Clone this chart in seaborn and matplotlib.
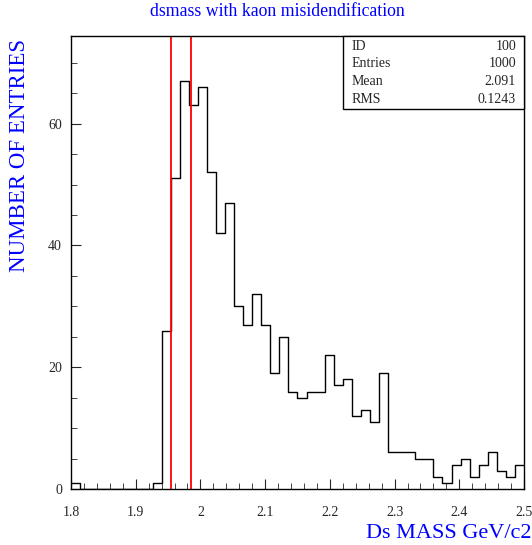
import numpy as np
import pandas as pd
import matplotlib
matplotlib.use("Agg")
import matplotlib.pyplot as plt
from matplotlib.patches import Rectangle
from matplotlib.ticker import MultipleLocator
import seaborn as sns

# histogram contents, 50 bins from 1.8 to 2.5
counts = [1, 0, 0, 0, 0, 0, 0, 0, 0, 1,
          26, 51, 67, 63, 66, 52, 42, 47, 30, 27,
          32, 27, 19, 25, 16, 15, 16, 16, 22, 17,
          18, 12, 13, 11, 19, 6, 6, 6, 5, 5,
          2, 1, 4, 5, 2, 4, 6, 3, 2, 4]
xmin, xmax = 1.8, 2.5
cut_lo, cut_hi = 1.9545, 1.985
stats_names = ["ID", "Entries", "Mean", "RMS"]
stats_values = ["100", "1000", "2.091", "0.1243"]

edges = np.linspace(xmin, xmax, len(counts) + 1)
centers = (edges[:-1] + edges[1:]) / 2
df = pd.DataFrame({"mass": centers, "n": counts})

sns.set_style("ticks")
plt.rcParams["font.family"] = ["Liberation Serif", "DejaVu Serif"]

W, H = 532, 545
fig = plt.figure(figsize=(W/100, H/100), dpi=100)
ax = fig.add_axes([71/W, 1-489/H, 453/W, 453/H])

sns.histplot(data=df, x="mass", weights="n", bins=len(counts),
             binrange=(xmin, xmax), element="step",
             fill=False, color="black", linewidth=1.0, ax=ax)

ax.axvline(cut_lo, color="red", linewidth=1.3)
ax.axvline(cut_hi, color="red", linewidth=1.3)

ax.set_xlim(xmin, xmax)
ax.set_ylim(0, 74.4)
ax.xaxis.set_major_locator(MultipleLocator(0.1))
ax.xaxis.set_minor_locator(MultipleLocator(0.02))
ax.yaxis.set_major_locator(MultipleLocator(20))
ax.yaxis.set_minor_locator(MultipleLocator(5))
ax.set_xticks(np.arange(1.8, 2.51, 0.1))
ax.set_xticklabels(["1.8", "1.9", "2", "2.1", "2.2", "2.3", "2.4", "2.5"])
ax.tick_params(which="both", direction="in", top=False, right=False,
               labelsize=10)
ax.tick_params(axis="x", which="major", pad=12)
ax.tick_params(axis="y", which="major", pad=6.5)
ax.tick_params(which="major", length=7)
ax.tick_params(which="minor", length=4)
for s in ax.spines.values():
    s.set_linewidth(1.0)
    s.set_color("black")

ax.set_xlabel("")
ax.set_ylabel("")
fig.text(531/W, 1-534/H, "Ds MASS GeV/c2", color="blue", fontsize=16,
         ha="right", va="center")
fig.text(20/W, 1-155/H, "NUMBER OF ENTRIES", color="blue", fontsize=16.5,
         rotation=90, ha="center", va="center")
fig.text(277.5/W, 1-12/H, "dsmass with kaon misidendification", color="blue",
         fontsize=12.8, ha="center", va="center")

# stats box
bx0, by0 = 343/W, 1-109/H
bw, bh = 181/W, 73/H
fig.patches.append(Rectangle((bx0, by0), bw, bh, transform=fig.transFigure,
                             facecolor="white", edgecolor="black",
                             linewidth=1.0, zorder=5))
for i, (name, val) in enumerate(zip(stats_names, stats_values)):
    yy = 1 - (46 + 17.8*i)/H
    fig.text(352/W, yy, name, fontsize=10, ha="left", va="center", zorder=6)
    fig.text(516/W, yy, val, fontsize=10, ha="right", va="center", zorder=6)

fig.savefig("out.png", dpi=100)
